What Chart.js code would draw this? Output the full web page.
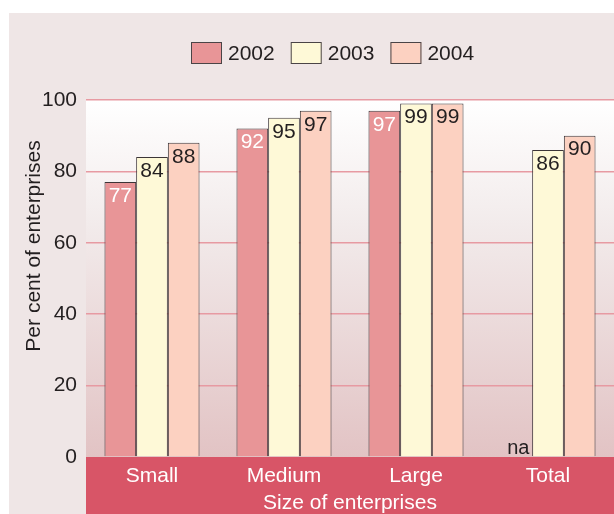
<!DOCTYPE html>
<html>
<head>
<meta charset="utf-8">
<script src="https://cdn.jsdelivr.net/npm/chart.js@4.4.1/dist/chart.umd.min.js"></script>
<style>
  html, body { margin: 0; padding: 0; background: #ffffff; }
  #wrap { position: relative; width: 614px; height: 514px; }
</style>
</head>
<body>
<div id="wrap"><canvas id="grafico" width="614" height="514"></canvas></div>
<script>
// ------------------------------------------------
// Dados
// ------------------------------------------------
const CATEGORIAS = ['Small', 'Medium', 'Large', 'Total'];
const ANOS = ['2002', '2003', '2004'];
const VALORES_2002 = [77, 92, 97, null];
const VALORES_2003 = [84, 95, 99, 86];
const VALORES_2004 = [88, 97, 99, 90];
const TICKS_Y = [0, 20, 40, 60, 80, 100];
const SEM_DADO = 'na';

const FONTE = '"Liberation Sans", Arial, Helvetica, sans-serif';
const CORES = ['#e89597', '#fef9d7', '#fcd1c1'];
const COR_TEXTO_ROTULO = ['#ffffff', '#231f20', '#231f20'];
const COR_FAIXA = '#d85567';
const COR_PAINEL = '#efe6e6';

// ------------------------------------------------
// Fundo: painel, gradiente da área e faixa do eixo X
// ------------------------------------------------
const pluginFundo = {
    id: 'fundo',
    beforeDraw(chart) {
        const { ctx, chartArea: a, width, height } = chart;
        ctx.save();
        ctx.fillStyle = '#ffffff';
        ctx.fillRect(0, 0, width, height);
        ctx.fillStyle = COR_PAINEL;
        ctx.fillRect(9, 13, width - 9, height - 13);

        const g = ctx.createLinearGradient(0, a.top, 0, a.bottom);
        g.addColorStop(0, '#ffffff');
        g.addColorStop(0.35, '#f2ebeb');
        g.addColorStop(1, '#e2c3c4');
        ctx.fillStyle = g;
        ctx.fillRect(a.left, a.top, a.right - a.left, a.bottom - a.top);

        ctx.fillStyle = COR_FAIXA;
        ctx.fillRect(a.left, a.bottom, a.right - a.left, height - a.bottom);
        ctx.restore();
    }
};

// ------------------------------------------------
// Rótulos de valor, "na", título do eixo Y e legenda
// ------------------------------------------------
const pluginTextos = {
    id: 'textos',
    afterDatasetsDraw(chart) {
        const { ctx, chartArea: a } = chart;
        ctx.save();
        ctx.font = `21px ${FONTE}`;
        ctx.textAlign = 'center';
        chart.data.datasets.forEach((ds, i) => {
            const meta = chart.getDatasetMeta(i);
            meta.data.forEach((bar, j) => {
                const v = ds.data[j];
                if (v === null) {
                    ctx.fillStyle = '#231f20';
                    ctx.textBaseline = 'alphabetic';
                    ctx.font = `20px ${FONTE}`;
                    ctx.fillText(SEM_DADO, bar.x + 2, a.bottom - 3);
                    ctx.font = `21px ${FONTE}`;
                    return;
                }
                ctx.fillStyle = COR_TEXTO_ROTULO[i];
                ctx.textBaseline = 'middle';
                ctx.fillText(String(v), bar.x, bar.y + 14);
            });
        });
        ctx.restore();
    },
    afterDraw(chart) {
        const { ctx } = chart;
        ctx.save();
        // título do eixo Y
        ctx.translate(34, 246);
        ctx.rotate(-Math.PI / 2);
        ctx.font = `21px ${FONTE}`;
        ctx.fillStyle = '#231f20';
        ctx.textAlign = 'center';
        ctx.textBaseline = 'middle';
        ctx.fillText('Per cent of enterprises', 0, 0);
        ctx.restore();

        // legenda
        ctx.save();
        ctx.font = `21px ${FONTE}`;
        ctx.textBaseline = 'middle';
        ctx.textAlign = 'left';
        let x = 191;
        chart.data.datasets.forEach(ds => {
            ctx.fillStyle = ds.backgroundColor;
            ctx.fillRect(x, 42, 31, 22);
            ctx.strokeStyle = '#4a4446';
            ctx.lineWidth = 1;
            ctx.strokeRect(x + 0.5, 42.5, 30, 21);
            ctx.fillStyle = '#231f20';
            ctx.fillText(ds.label, x + 37, 54);
            x += 37 + ctx.measureText(ds.label).width + 16;
        });
        ctx.restore();
    }
};

const conjuntos = [VALORES_2002, VALORES_2003, VALORES_2004].map((dados, i) => ({
    label: ANOS[i],
    data: dados,
    backgroundColor: CORES[i],
    borderColor: '#3c3537',
    borderWidth: 1,
    borderSkipped: 'bottom',
    barPercentage: 1.0,
    categoryPercentage: 0.72
}));

new Chart(document.getElementById('grafico').getContext('2d'), {
    type: 'bar',
    data: { labels: CATEGORIAS, datasets: conjuntos },
    options: {
        responsive: false,
        animation: false,
        devicePixelRatio: 1,
        layout: { padding: { top: 100, left: 0, right: 0, bottom: 0 } },
        plugins: {
            legend: { display: false },
            tooltip: { enabled: false }
        },
        scales: {
            x: {
                grid: { display: false, drawTicks: false },
                border: { display: false },
                ticks: { color: '#ffffff', font: { family: FONTE, size: 21 }, padding: 7, maxRotation: 0 },
                title: {
                    display: true,
                    text: 'Size of enterprises',
                    color: '#ffffff',
                    font: { family: FONTE, size: 21, lineHeight: 1.0 },
                    padding: { top: 0, bottom: 0 }
                },
                afterFit: s => { s.height = 57; }
            },
            y: {
                min: 0, max: 100,
                afterBuildTicks: s => { s.ticks = TICKS_Y.map(v => ({ value: v })); },
                grid: {
                    color: ctx => ctx.tick && ctx.tick.value === 0 ? 'rgba(0,0,0,0)' : '#e79aa2',
                    lineWidth: 1.5,
                    drawTicks: false
                },
                border: { display: false },
                ticks: { color: '#231f20', font: { family: FONTE, size: 21 }, padding: 9 },
                afterFit: s => { s.width = 86; }
            }
        }
    },
    plugins: [pluginFundo, pluginTextos]
});
</script>
</body>
</html>
